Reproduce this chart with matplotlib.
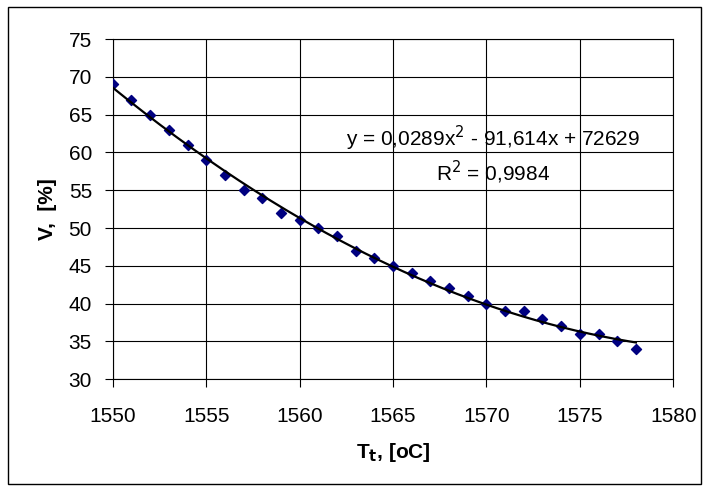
import numpy as np
import matplotlib.pyplot as plt
from matplotlib.patches import Rectangle

plt.rcParams['font.family'] = ['Liberation Sans', 'DejaVu Sans']

# Daten
temp = list(range(1550, 1579))
v_pct = [69, 67, 65, 63, 61, 59, 57, 55, 54, 52, 51, 50, 49, 47, 46, 45,
         44, 43, 42, 41, 40, 39, 39, 38, 37, 36, 36, 35, 34]
x_ticks = [1550, 1555, 1560, 1565, 1570, 1575, 1580]
y_ticks = [30, 35, 40, 45, 50, 55, 60, 65, 70, 75]

fig = plt.figure(figsize=(7.05, 4.88), dpi=100)
ax = fig.add_axes([0.160, 0.223, 0.795, 0.697])

# Rahmen um die ganze Abbildung
fig.patches.append(Rectangle((0.012, 0.008), 0.982, 0.978, transform=fig.transFigure,
                             fill=False, edgecolor='black', linewidth=1.0))

ax.scatter(temp, v_pct, marker='D', s=26, color='#000080', zorder=3)

# Polynom-Trendlinie 2. Ordnung
coef = np.polyfit(temp, v_pct, 2)
xt = np.linspace(temp[0], temp[-1], 200)
ax.plot(xt, np.polyval(coef, xt), color='black', linewidth=1.6, zorder=4)

ax.set_xlim(1550, 1580)
ax.set_ylim(30, 75)
ax.set_xticks(x_ticks)
ax.set_yticks(y_ticks)
ax.grid(True, color='black', linewidth=0.8)
ax.set_axisbelow(True)
for s in ax.spines.values():
    s.set_color('black')
    s.set_linewidth(0.8)
ax.tick_params(direction='out', length=6, width=0.8, labelsize=15)
ax.tick_params(axis='x', pad=14)
ax.tick_params(axis='y', pad=9)

ax.set_xlabel('T$_\\mathbf{t}$, [oC]', fontsize=15, fontweight='bold', labelpad=11)
ax.set_ylabel('V,  [%]', fontsize=15, fontweight='bold', labelpad=8)

ax.text(1570.36, 61.9, 'y = 0,0289x$^2$ - 91,614x + 72629', fontsize=15,
        ha='center', va='center')
ax.text(1570.36, 57.3, 'R$^2$ = 0,9984', fontsize=15, ha='center', va='center')

plt.savefig('out.png', dpi=100)
